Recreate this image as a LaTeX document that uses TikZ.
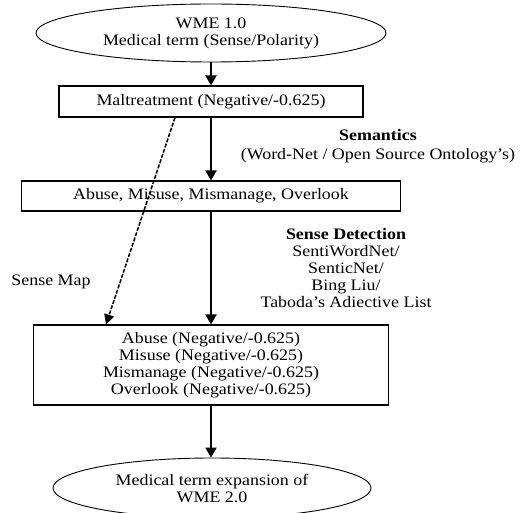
\documentclass[tikz,border=0pt]{standalone}
\usepackage{fontspec}
\setmainfont{Liberation Serif}[FakeStretch=1.12]
\usetikzlibrary{arrows.meta,positioning,shapes.geometric}

\begin{document}
\begin{tikzpicture}[x=1pt,y=-1pt,
  font=\fontsize{16}{17}\selectfont,
  box/.style={draw,line width=1.1pt,inner sep=0pt,align=center},
  oval/.style={ellipse,draw,line width=0.9pt,inner sep=0pt,align=center},
  flow/.style={-{Triangle[length=10pt,width=11pt]},line width=2pt}]
  \useasboundingbox (0,0) rectangle (524,513);
  \clip (0,0) rectangle (524,513);
  % boxes and ovals
  \node[oval,minimum width=350pt,minimum height=58pt] (wmeA) at (211,33) {WME 1.0\\Medical term (Sense/Polarity)};
  \node[box,minimum width=304pt,minimum height=31pt] (malt) at (211,101.5) {Maltreatment (Negative/-0.625)};
  \node[box,minimum width=379pt,minimum height=30pt] (words) at (211,196) {Abuse, Misuse, Mismanage, Overlook};
  \node[box,minimum width=355pt,minimum height=80pt] (senses) at (211,365) {Abuse (Negative/-0.625)\\Misuse (Negative/-0.625)\\Mismanage (Negative/-0.625)\\Overlook (Negative/-0.625)};
  \node[oval,minimum width=318pt,minimum height=60pt] (wmeB) at (212,488) {Medical term expansion of\\WME 2.0};
  % side labels
  \node[align=center] (semlbl) at (378,146) {\textbf{Semantics}\\[2pt](Word-Net / Open Source Ontology’s)};
  \node[align=center] (detlbl) at (346,268) {\textbf{Sense Detection}\\SentiWordNet/\\SenticNet/\\Bing Liu/\\Taboda’s Adiective List};
  \node (maplbl) at (51,282) {Sense Map};
  % arrows
  \draw[flow] (wmeA) -- (malt);
  \draw[flow] (malt) -- (words);
  \draw[flow] (words) -- (senses);
  \draw[flow] (senses.south) -- (senses.south |- wmeB.north);
  \draw[-{Triangle[length=10pt,width=10pt]},line width=1.5pt,dash pattern=on 4pt off 1.5pt] ([xshift=-36pt]malt.south) -- ([xshift=-105pt]senses.north);
\end{tikzpicture}
\end{document}
